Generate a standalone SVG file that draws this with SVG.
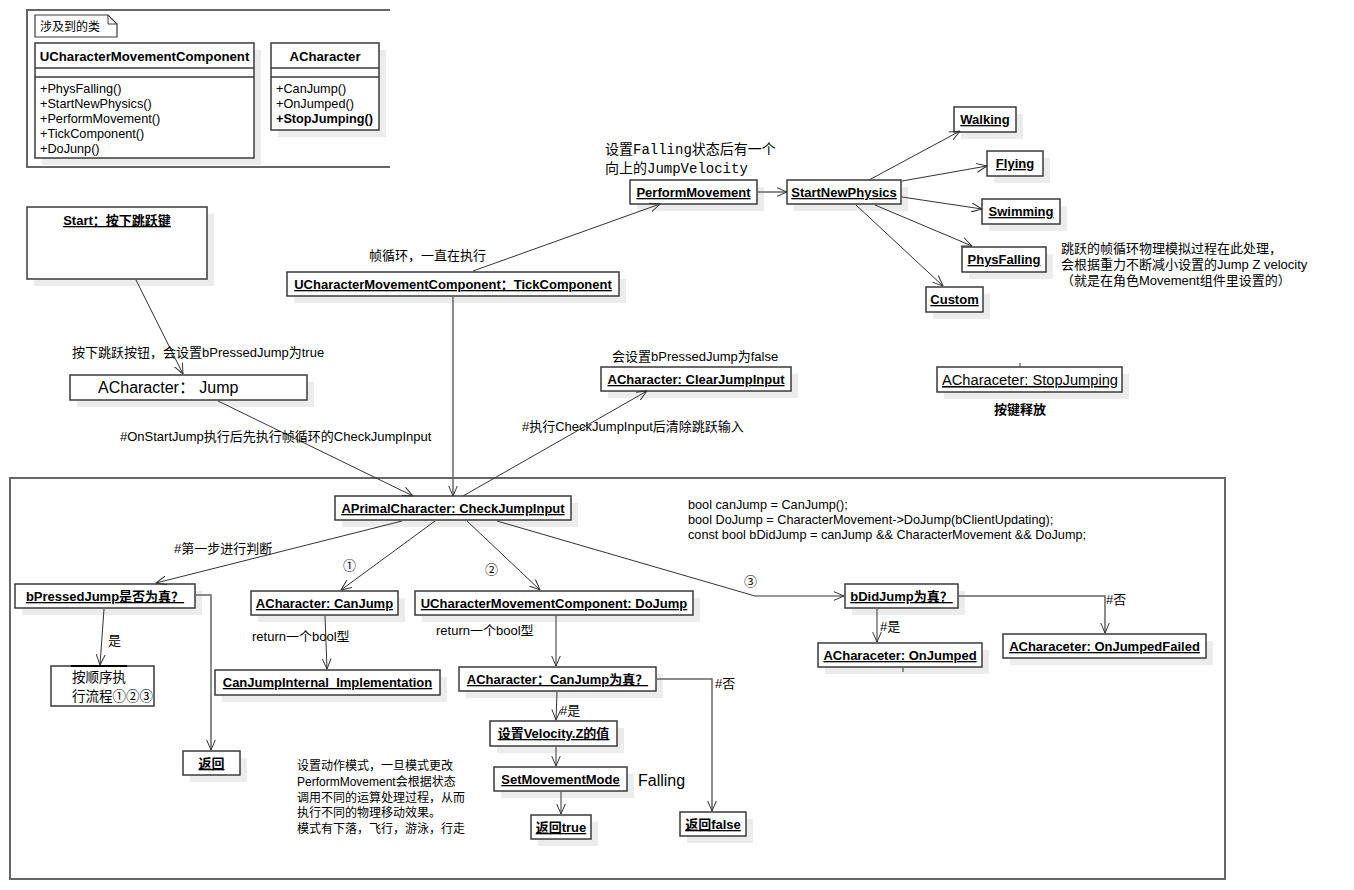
<svg xmlns="http://www.w3.org/2000/svg" width="1354" height="890" viewBox="0 0 1354 890">
<style>
text{font-family:"Liberation Sans",Arial,"Noto Sans CJK SC",sans-serif;fill:#000;}
.b{fill:#fff;stroke:#3a3a3a;stroke-width:1.5;}
.sh{fill:#ececec;stroke:none;}
.t{font-size:13px;font-weight:bold;text-decoration:underline;text-anchor:middle;}
.n{font-size:13px;}
.s{font-size:12px;}
.m{font-size:12.7px;}
.mono{font-family:"Liberation Mono","Noto Sans CJK SC",monospace;font-size:14px;}
.c{fill:none;stroke:#333;stroke-width:1;}
.o{fill:none;stroke:#666;stroke-width:1.5;}
.fr{fill:none;stroke:#666;stroke-width:2;}
</style>
<defs>
<marker id="a" markerUnits="userSpaceOnUse" markerWidth="11" markerHeight="10" refX="10.5" refY="5" orient="auto" viewBox="0 0 11 10">
<path d="M0,0.5 L10.5,5 L0,9.5" fill="none" stroke="#333" stroke-width="1"/>
</marker>
</defs>
<rect width="1354" height="890" fill="#fff"/>

<g id="frame-top">
<path class="fr" d="M390,10 L27,10 L27,167 L390,167"/>
</g>
<g id="frame-main">
<rect class="fr" x="10" y="478" width="1215" height="401"/>
</g>

<g id="note">
<path d="M35,15 L108,15 L117,24 L117,37 L35,37 Z" fill="#fff" stroke="#3a3a3a" stroke-width="1.2"/>
<path d="M108,15 L108,24 L117,24" fill="none" stroke="#3a3a3a" stroke-width="1"/>
<text class="s" x="40" y="31">涉及到的类</text>
</g>

<g id="class-ucmc">
<rect class="sh" x="42" y="50" width="219" height="115"/>
<rect class="b" x="35" y="43" width="219" height="115"/>
<line x1="35" y1="68" x2="254" y2="68" stroke="#3a3a3a" stroke-width="1.5"/>
<line x1="35" y1="77" x2="254" y2="77" stroke="#3a3a3a" stroke-width="1.5"/>
<text x="144.5" y="61" font-size="13.2" font-weight="bold" text-anchor="middle">UCharacterMovementComponent</text>
<text class="m" x="40" y="93">+PhysFalling()</text>
<text class="m" x="40" y="108">+StartNewPhysics()</text>
<text class="m" x="40" y="123">+PerformMovement()</text>
<text class="m" x="40" y="138">+TickComponent()</text>
<text class="m" x="40" y="153">+DoJunp()</text>
</g>

<g id="class-achar">
<rect class="sh" x="278" y="50" width="108" height="87"/>
<rect class="b" x="271" y="43" width="108" height="87"/>
<line x1="271" y1="68" x2="379" y2="68" stroke="#3a3a3a" stroke-width="1.5"/>
<line x1="271" y1="77" x2="379" y2="77" stroke="#3a3a3a" stroke-width="1.5"/>
<text x="325" y="61" font-size="13.2" font-weight="bold" text-anchor="middle">ACharacter</text>
<text class="m" x="276" y="93">+CanJump()</text>
<text class="m" x="276" y="108">+OnJumped()</text>
<text class="m" x="276" y="123" font-weight="bold">+StopJumping()</text>
</g>

<g id="start">
<rect class="sh" x="34" y="214" width="180" height="72"/>
<rect class="b" x="27" y="207" width="180" height="72"/>
<text class="t" x="117" y="225" font-size="13.5">Start：按下跳跃键</text>
</g>
<g id="jump">
<rect class="sh" x="77" y="382" width="237" height="25"/>
<rect class="b" x="70" y="375" width="237" height="25"/>
<text x="98" y="393" font-size="16">ACharacter：  Jump</text>
</g>
<g id="tick">
<rect class="sh" x="294" y="279" width="332" height="24"/>
<rect class="b" x="287" y="272" width="332" height="24"/>
<text class="t" x="453" y="289">UCharacterMovementComponent：TickComponent</text>
</g>
<g id="perform">
<rect class="sh" x="637" y="187" width="127" height="24"/>
<rect class="b" x="630" y="180" width="127" height="24"/>
<text class="t" x="693.5" y="197">PerformMovement</text>
</g>
<g id="startnew">
<rect class="sh" x="794" y="187" width="114" height="24"/>
<rect class="b" x="787" y="180" width="114" height="24"/>
<text class="t" x="844" y="197">StartNewPhysics</text>
</g>
<g id="walking">
<rect class="sh" x="961" y="114" width="62" height="25"/>
<rect class="b" x="954" y="107" width="62" height="25"/>
<text class="t" x="985" y="124">Walking</text>
</g>
<g id="flying">
<rect class="sh" x="994" y="158" width="56" height="25"/>
<rect class="b" x="987" y="151" width="56" height="25"/>
<text class="t" x="1015" y="168">Flying</text>
</g>
<g id="swimming">
<rect class="sh" x="989" y="206" width="78" height="25"/>
<rect class="b" x="982" y="199" width="78" height="25"/>
<text class="t" x="1021" y="216">Swimming</text>
</g>
<g id="physfalling">
<rect class="sh" x="969" y="254" width="84" height="25"/>
<rect class="b" x="962" y="247" width="84" height="25"/>
<text class="t" x="1004" y="264">PhysFalling</text>
</g>
<g id="custom">
<rect class="sh" x="933" y="294" width="57" height="25"/>
<rect class="b" x="926" y="287" width="57" height="25"/>
<text class="t" x="954.5" y="304">Custom</text>
</g>
<g id="stopjumping">
<rect class="sh" x="944" y="374" width="185" height="25"/>
<rect class="b" x="937" y="367" width="185" height="25"/>
<text x="942" y="385" font-size="15.5" text-decoration="underline" textLength="176" lengthAdjust="spacingAndGlyphs">ACharaceter: StopJumping</text>
</g>
<g id="clearjump">
<rect class="sh" x="608" y="374" width="190" height="24"/>
<rect class="b" x="601" y="367" width="190" height="24"/>
<text class="t" x="696" y="384">ACharacter:  ClearJumpInput</text>
</g>
<g id="checkjump">
<rect class="sh" x="342" y="503" width="236" height="24"/>
<rect class="b" x="335" y="496" width="236" height="24"/>
<text class="t" x="453" y="513">APrimalCharacter: CheckJumpInput</text>
</g>
<g id="bpressed">
<rect class="sh" x="22" y="591" width="180" height="24"/>
<rect class="b" x="15" y="584" width="180" height="24"/>
<text class="t" x="105" y="601" font-size="13.5">bPressedJump是否为真？</text>
</g>
<g id="sequence">
<rect class="b" x="51" y="666" width="103" height="40"/>
<line x1="71" y1="666" x2="127" y2="666" stroke="#000" stroke-width="2"/>
<text x="72" y="682" font-size="13.5">按顺序执</text>
<text x="72" y="701" font-size="13.5">行流程①②③</text>
</g>
<g id="fanhui">
<rect class="sh" x="190" y="758" width="57" height="24"/>
<rect class="b" x="183" y="751" width="57" height="24"/>
<text class="t" x="211.5" y="768">返回</text>
</g>
<g id="canjump">
<rect class="sh" x="258" y="598" width="147" height="24"/>
<rect class="b" x="251" y="591" width="147" height="24"/>
<text class="t" x="324.5" y="608">ACharacter: CanJump</text>
</g>
<g id="canjumpimpl">
<rect class="sh" x="222" y="677" width="225" height="25"/>
<rect class="b" x="215" y="670" width="225" height="25"/>
<text class="t" x="327.5" y="687">CanJumpInternal_Implementation</text>
</g>
<g id="dojump">
<rect class="sh" x="422" y="598" width="278" height="24"/>
<rect class="b" x="415" y="591" width="278" height="24"/>
<text class="t" x="554" y="608">UCharacterMovementComponent: DoJump</text>
</g>
<g id="canjumptrue">
<rect class="sh" x="466" y="674" width="197" height="24"/>
<rect class="b" x="459" y="667" width="197" height="24"/>
<text class="t" x="557.5" y="684">ACharacter：CanJump为真？</text>
</g>
<g id="setvel">
<rect class="sh" x="497" y="728" width="127" height="25"/>
<rect class="b" x="490" y="721" width="127" height="25"/>
<text class="t" x="553.5" y="738">设置Velocity.Z的值</text>
</g>
<g id="setmode">
<rect class="sh" x="501" y="774" width="133" height="24"/>
<rect class="b" x="494" y="767" width="133" height="24"/>
<text class="t" x="560.5" y="784">SetMovementMode</text>
</g>
<g id="rettrue">
<rect class="sh" x="538" y="822" width="60" height="24"/>
<rect class="b" x="531" y="815" width="60" height="24"/>
<text class="t" x="561" y="832">返回true</text>
</g>
<g id="retfalse">
<rect class="sh" x="687" y="819" width="66" height="24"/>
<rect class="b" x="680" y="812" width="66" height="24"/>
<text class="t" x="713" y="829">返回false</text>
</g>
<g id="bdidjump">
<rect class="sh" x="852" y="591" width="113" height="24"/>
<rect class="b" x="845" y="584" width="113" height="24"/>
<text class="t" x="901.5" y="601">bDidJump为真？</text>
</g>
<g id="onjumped">
<rect class="sh" x="825" y="650" width="164" height="24"/>
<rect class="b" x="818" y="643" width="164" height="24"/>
<text class="t" x="900" y="660">ACharaceter: OnJumped</text>
</g>
<g id="onjumpedfailed">
<rect class="sh" x="1010" y="641" width="203" height="24"/>
<rect class="b" x="1003" y="634" width="203" height="24"/>
<text class="t" x="1104.5" y="651">ACharaceter: OnJumpedFailed</text>
</g>

<g id="connectors">
<line class="c" x1="136" y1="280" x2="183" y2="374" marker-end="url(#a)"/>
<line class="c" x1="218" y1="401" x2="413" y2="496" marker-end="url(#a)"/>
<line class="o" x1="453" y1="297" x2="453" y2="496" marker-end="url(#a)"/>
<line class="c" x1="473" y1="271" x2="660" y2="204" marker-end="url(#a)"/>
<line class="o" x1="758" y1="192" x2="787" y2="192" marker-end="url(#a)"/>
<line class="c" x1="869" y1="180" x2="960" y2="131" marker-end="url(#a)"/>
<line class="c" x1="902" y1="181" x2="987" y2="166" marker-end="url(#a)"/>
<line class="c" x1="902" y1="197" x2="982" y2="209" marker-end="url(#a)"/>
<line class="c" x1="875" y1="205" x2="972" y2="246" marker-end="url(#a)"/>
<line class="c" x1="856" y1="205" x2="943" y2="286" marker-end="url(#a)"/>
<line class="c" x1="463" y1="496" x2="647" y2="391" marker-end="url(#a)"/>
<line class="c" x1="402" y1="521" x2="156" y2="583" marker-end="url(#a)"/>
<line class="c" x1="435" y1="521" x2="341" y2="590" marker-end="url(#a)"/>
<line class="c" x1="467" y1="521" x2="540" y2="590" marker-end="url(#a)"/>
<path class="c" d="M497,521 L755,596 L844,596" marker-end="url(#a)"/>
<line class="c" x1="104" y1="609" x2="100" y2="665" marker-end="url(#a)"/>
<path class="o" d="M196,595 L211,595 L211,750" marker-end="url(#a)"/>
<line class="c" x1="325" y1="616" x2="327" y2="669" marker-end="url(#a)"/>
<line class="c" x1="556" y1="616" x2="556" y2="666" marker-end="url(#a)"/>
<path class="o" d="M657,679 L712,679 L712,811" marker-end="url(#a)"/>
<line class="c" x1="557" y1="692" x2="556" y2="720" marker-end="url(#a)"/>
<line class="c" x1="556" y1="747" x2="556" y2="766" marker-end="url(#a)"/>
<line class="c" x1="561" y1="792" x2="561" y2="814" marker-end="url(#a)"/>
<line class="c" x1="877" y1="609" x2="877" y2="642" marker-end="url(#a)"/>
<path class="o" d="M959,596 L1105,596 L1105,633" marker-end="url(#a)"/>
<line x1="1020" y1="363" x2="1020" y2="366" stroke="#333" stroke-width="1"/>
<line x1="903" y1="668" x2="903" y2="672" stroke="#333" stroke-width="1"/>
</g>

<g id="labels">
<text class="n" x="72" y="357">按下跳跃按钮，会设置bPressedJump为true</text>
<text class="n" x="120" y="441">#OnStartJump执行后先执行帧循环的CheckJumpInput</text>
<text class="n" x="369" y="260">帧循环，一直在执行</text>
<text class="mono" x="605" y="154">设置Falling状态后有一个</text>
<text class="mono" x="605" y="173">向上的JumpVelocity</text>
<text class="n" x="1061" y="253">跳跃的帧循环物理模拟过程在此处理，</text>
<text class="n" x="1061" y="269">会根据重力不断减小设置的Jump Z velocity</text>
<text class="n" x="1061" y="285">（就是在角色Movement组件里设置的）</text>
<text class="n" x="612" y="361">会设置bPressedJump为false</text>
<text class="n" x="522" y="431">#执行CheckJumpInput后清除跳跃输入</text>
<text x="1020" y="414" font-size="13" text-anchor="middle" font-weight="bold">按键释放</text>
<text class="m" x="688" y="509">bool canJump = CanJump();</text>
<text class="m" x="688" y="524">bool DoJump = CharacterMovement-&gt;DoJump(bClientUpdating);</text>
<text class="m" x="688" y="539">const bool bDidJump = canJump &amp;&amp; CharacterMovement &amp;&amp; DoJump;</text>
<text class="n" x="174" y="553">#第一步进行判断</text>
<text class="n" x="343" y="570">①</text>
<text class="n" x="485" y="574">②</text>
<text class="n" x="744" y="586">③</text>
<text class="n" x="108" y="645">是</text>
<text class="n" x="252" y="641">return一个bool型</text>
<text class="n" x="436" y="635">return一个bool型</text>
<text class="n" x="715" y="688">#否</text>
<text class="n" x="560" y="715">#是</text>
<text x="638" y="786" font-size="16">Falling</text>
<text class="n" x="880" y="631">#是</text>
<text class="n" x="1106" y="604">#否</text>
<text class="s" x="297" y="770">设置动作模式，一旦模式更改</text>
<text class="s" x="297" y="786">PerformMovement会根据状态</text>
<text class="s" x="297" y="802">调用不同的运算处理过程，从而</text>
<text class="s" x="297" y="817">执行不同的物理移动效果。</text>
<text class="s" x="297" y="833">模式有下落，飞行，游泳，行走</text>
</g>
</svg>
